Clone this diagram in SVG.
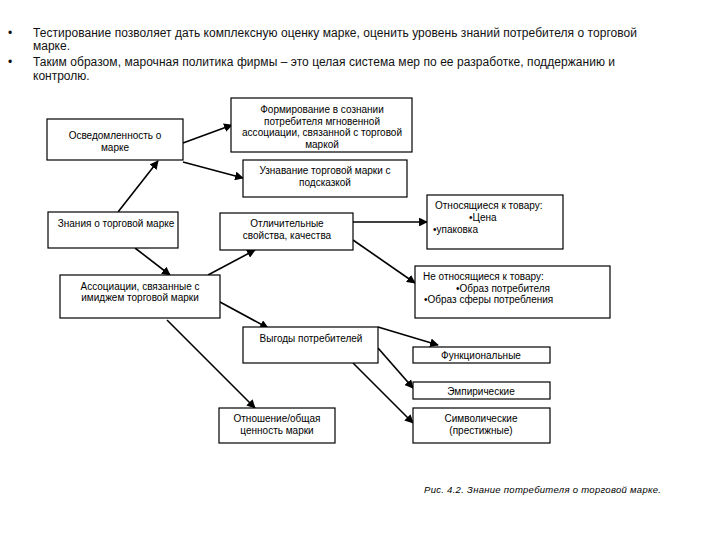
<svg xmlns="http://www.w3.org/2000/svg" width="720" height="540" viewBox="0 0 720 540">
<defs>
<marker id="ah" viewBox="0 0 10 10" refX="9" refY="5" markerWidth="5.5" markerHeight="5.5" orient="auto" markerUnits="strokeWidth">
<path d="M0,0 L10,5 L0,10 z" fill="#000"/>
</marker>
<style>
.box{fill:#fff;stroke:#000;stroke-width:1.2}
.t{font-family:"Liberation Sans",Arial,sans-serif;font-size:10px;fill:#000}
.c{text-anchor:middle}
.top{font-family:"Liberation Sans",Arial,sans-serif;font-size:12px;fill:#111}
.cap{font-family:"Liberation Sans",Arial,sans-serif;font-size:9.5px;font-style:italic;fill:#000}
.ln{stroke:#000;stroke-width:1.6;fill:none;marker-end:url(#ah)}
</style>
</defs>
<rect width="720" height="540" fill="#fff"/>
<g id="intro">
<text class="top" x="8" y="37">•</text>
<text class="top" x="33" y="37" textLength="604">Тестирование позволяет дать комплексную оценку марке, оценить уровень знаний потребителя о торговой</text>
<text class="top" x="33" y="50">марке.</text>
<text class="top" x="8" y="66">•</text>
<text class="top" x="33" y="66" textLength="582">Таким образом, марочная политика фирмы – это целая система мер по ее разработке, поддержанию и</text>
<text class="top" x="33" y="80">контролю.</text>
</g>
<g id="connectors">
<line class="ln" x1="183" y1="143" x2="232" y2="125"/>
<line class="ln" x1="183" y1="162" x2="243" y2="178"/>
<line class="ln" x1="118" y1="212" x2="158" y2="161"/>
<line class="ln" x1="135" y1="248" x2="170" y2="275"/>
<line class="ln" x1="208" y1="275" x2="255" y2="250"/>
<line class="ln" x1="353" y1="222" x2="427" y2="222"/>
<line class="ln" x1="353" y1="240" x2="415" y2="283"/>
<line class="ln" x1="220" y1="302" x2="268" y2="328"/>
<line class="ln" x1="167" y1="320" x2="255" y2="408"/>
<line class="ln" x1="378" y1="327" x2="438" y2="345"/>
<line class="ln" x1="378" y1="348" x2="413" y2="388"/>
<line class="ln" x1="353" y1="363" x2="413" y2="423"/>
</g>
<g id="n-osv">
<rect class="box" x="47" y="119" width="136" height="41"/>
<text class="t c" x="115" y="139">Осведомленность о</text>
<text class="t c" x="115" y="151">марке</text>
</g>
<g id="n-form">
<rect class="box" x="231" y="98" width="181" height="54"/>
<text class="t c" x="322" y="113">Формирование в сознании</text>
<text class="t c" x="322" y="124.5">потребителя мгновенной</text>
<text class="t c" x="322" y="136">ассоциации, связанной с торговой</text>
<text class="t c" x="322" y="147.5">маркой</text>
</g>
<g id="n-uzn">
<rect class="box" x="243" y="160" width="164" height="37"/>
<text class="t c" x="325" y="174">Узнавание торговой марки с</text>
<text class="t c" x="325" y="186">подсказкой</text>
</g>
<g id="n-zn">
<rect class="box" x="48" y="212" width="130" height="36"/>
<text class="t c" x="116" y="227">Знания о торговой марке</text>
</g>
<g id="n-otl">
<rect class="box" x="220" y="213" width="133" height="37"/>
<text class="t c" x="287" y="227">Отличительные</text>
<text class="t c" x="287" y="239">свойства, качества</text>
</g>
<g id="n-assoc">
<rect class="box" x="60" y="275" width="160" height="43"/>
<text class="t c" x="140" y="290">Ассоциации, связанные с</text>
<text class="t c" x="140" y="301">имиджем торговой марки</text>
</g>
<g id="n-otn">
<rect class="box" x="427" y="195" width="136" height="54"/>
<text class="t" x="435" y="209">Относящиеся к товару:</text>
<text class="t" x="469" y="221">•Цена</text>
<text class="t" x="433" y="233">•упаковка</text>
</g>
<g id="n-neotn">
<rect class="box" x="415" y="266" width="195" height="52"/>
<text class="t" x="423" y="280">Не относящиеся к товару:</text>
<text class="t" x="456" y="292">•Образ потребителя</text>
<text class="t" x="424" y="303">•Образ сферы потребления</text>
</g>
<g id="n-vyg">
<rect class="box" x="243" y="327" width="135" height="36"/>
<text class="t c" x="311" y="342">Выгоды потребителей</text>
</g>
<g id="n-func">
<rect class="box" x="413" y="347" width="137" height="16"/>
<text class="t c" x="481" y="359">Функциональные</text>
</g>
<g id="n-emp">
<rect class="box" x="413" y="382" width="137" height="17"/>
<text class="t c" x="481" y="395">Эмпирические</text>
</g>
<g id="n-sym">
<rect class="box" x="413" y="408" width="137" height="35"/>
<text class="t c" x="481" y="422">Символические</text>
<text class="t c" x="481" y="434">(престижные)</text>
</g>
<g id="n-rel">
<rect class="box" x="219" y="408" width="116" height="35"/>
<text class="t c" x="277" y="422">Отношение/общая</text>
<text class="t c" x="277" y="434">ценность марки</text>
</g>
<text class="cap" x="424" y="493" textLength="237">Рис. 4.2. Знание потребителя о торговой марке.</text>
</svg>
